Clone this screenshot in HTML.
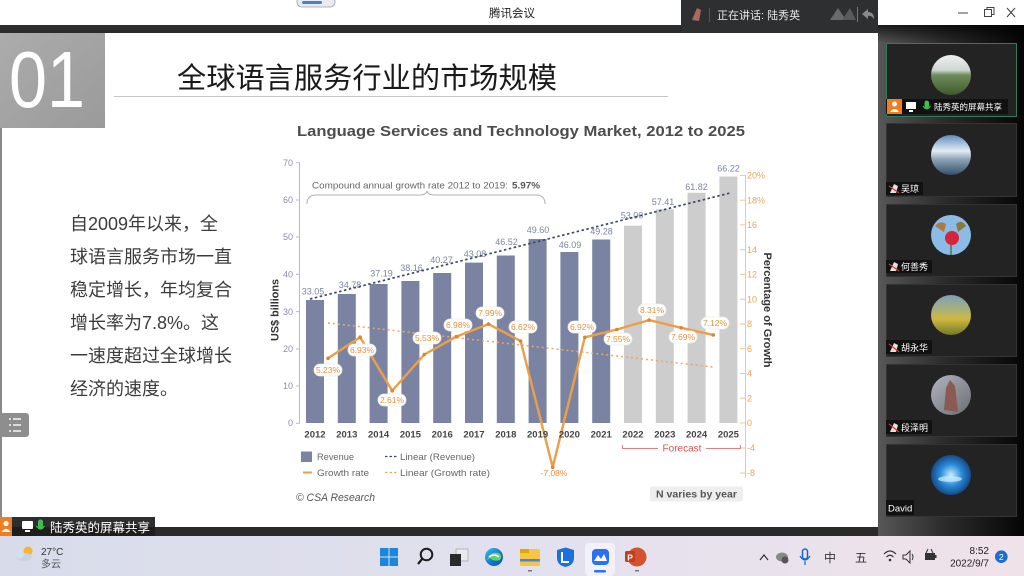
<!DOCTYPE html>
<html><head><meta charset="utf-8">
<style>
html,body{margin:0;padding:0;width:1024px;height:576px;overflow:hidden;background:#fff}
svg{display:block}
text{font-family:'Liberation Sans','Noto Sans CJK SC',sans-serif}
</style></head><body>
<svg width="1024" height="576" viewBox="0 0 1024 576" xmlns="http://www.w3.org/2000/svg">
<defs>
<linearGradient id="sb" x1="0" y1="0" x2="1" y2="0">
<stop offset="0" stop-color="#575757"/><stop offset="0.45" stop-color="#2c2c2c"/><stop offset="1" stop-color="#050505"/>
</linearGradient>
<linearGradient id="sbt" x1="0" y1="0" x2="0" y2="1">
<stop offset="0" stop-color="#000" stop-opacity="0.7"/><stop offset="1" stop-color="#000" stop-opacity="0"/>
</linearGradient>
<linearGradient id="tb" x1="0" y1="0" x2="1" y2="0">
<stop offset="0" stop-color="#d8dcea"/><stop offset="0.55" stop-color="#e3e1ee"/><stop offset="1" stop-color="#f0e2e9"/>
</linearGradient>
<linearGradient id="box01" x1="0" y1="0" x2="1" y2="1"><stop offset="0" stop-color="#acacac"/><stop offset="1" stop-color="#9a9a9a"/></linearGradient>
<linearGradient id="a1" x1="0" y1="0" x2="0" y2="1"><stop offset="0" stop-color="#eef1f2"/><stop offset="0.38" stop-color="#cdd6d0"/><stop offset="0.5" stop-color="#6f8c5a"/><stop offset="1" stop-color="#3d5a2c"/></linearGradient>
<linearGradient id="a2" x1="0" y1="0" x2="0" y2="1"><stop offset="0" stop-color="#5f8cc0"/><stop offset="0.4" stop-color="#e4ecf2"/><stop offset="0.6" stop-color="#8fa5b8"/><stop offset="1" stop-color="#34506a"/></linearGradient>
<linearGradient id="a4" x1="0" y1="0" x2="0" y2="1"><stop offset="0" stop-color="#7d9fb8"/><stop offset="0.35" stop-color="#a8b07a"/><stop offset="0.6" stop-color="#d0b840"/><stop offset="1" stop-color="#6f7a2a"/></linearGradient>
<linearGradient id="a5" x1="0" y1="0" x2="1" y2="1"><stop offset="0" stop-color="#b0b4bc"/><stop offset="1" stop-color="#6c6e76"/></linearGradient>
<radialGradient id="a6" cx="0.5" cy="0.5" r="0.6"><stop offset="0" stop-color="#c8ecff"/><stop offset="0.45" stop-color="#2b8ad8"/><stop offset="1" stop-color="#0a2f66"/></radialGradient>
<linearGradient id="edge" x1="0" y1="0" x2="1" y2="1"><stop offset="0" stop-color="#35c1f1"/><stop offset="0.6" stop-color="#1573c9"/><stop offset="1" stop-color="#0c59a4"/></linearGradient>
</defs>

<!-- window title bar -->
<rect x="0" y="0" width="1024" height="25" fill="#ffffff"/>
<rect x="297" y="-4" width="38" height="11" rx="5" fill="#e9ebf0" stroke="#9aa0aa" stroke-width="0.8"/>
<rect x="302" y="1" width="20" height="3" rx="1.5" fill="#4a7fd6"/>
<text x="512" y="17" font-size="11.5" fill="#222" text-anchor="middle">腾讯会议</text>
<line x1="958" y1="13" x2="968" y2="13" stroke="#444" stroke-width="1"/>
<rect x="984.5" y="9.5" width="7" height="7" fill="none" stroke="#444" stroke-width="1"/>
<path d="M987 9.5 V7.5 H994 V14.5 H991.5" fill="none" stroke="#444" stroke-width="1"/>
<path d="M1007 8 L1015 17 M1015 8 L1007 17" stroke="#444" stroke-width="1.1"/>

<!-- dark strip and speaker panel -->
<rect x="0" y="25" width="878" height="8" fill="#2b2b2c"/>
<rect x="681" y="0" width="197" height="33" fill="#2e2f31"/>
<path d="M692 20 L697 8 L701 10 L699 21 Z" fill="#a86a5c"/>
<line x1="709.5" y1="8" x2="709.5" y2="22" stroke="#555" stroke-width="1"/>
<text x="717" y="19" font-size="11" fill="#e8e8e8">正在讲话: 陆秀英</text>
<path d="M830 20 L838 8 L846 20 Z" fill="#6a6a6a"/>
<path d="M842 20 L850 8 L856 20 Z" fill="#5a5a5a"/>
<line x1="857.5" y1="7" x2="857.5" y2="22" stroke="#777"/>
<path d="M862 14 L868 9 L868 12 Q874 12 874 19 Q871 15 868 16 L868 19 Z" fill="#8a8a8a"/>

<!-- slide -->
<rect x="0" y="33" width="878" height="494" fill="#ffffff"/>
<rect x="0" y="33" width="2" height="494" fill="#8a8a8a"/>
<rect x="0" y="33" width="105" height="95" fill="url(#box01)"/>
<text x="9" y="107" font-size="80" fill="#ffffff" textLength="76" lengthAdjust="spacingAndGlyphs">01</text>
<text x="177" y="88" font-size="29" fill="#1a1a1a" textLength="380" lengthAdjust="spacingAndGlyphs">全球语言服务行业的市场规模</text>
<line x1="114" y1="96.5" x2="668" y2="96.5" stroke="#c4c4c4" stroke-width="1"/>

<!-- left body text -->
<g font-size="18" fill="#3c3c3c">
<text x="70" y="230">自2009年以来，全</text>
<text x="70" y="263">球语言服务市场一直</text>
<text x="70" y="296">稳定增长，年均复合</text>
<text x="70" y="329">增长率为7.8%。这</text>
<text x="70" y="362">一速度超过全球增长</text>
<text x="70" y="395">经济的速度。</text>
</g>
<rect x="0" y="413" width="29" height="24" rx="3" fill="#8e8e8e"/>
<g stroke="#fff" stroke-width="1.4">
<line x1="9" y1="419" x2="11" y2="419"/><line x1="13" y1="419" x2="21" y2="419"/>
<line x1="9" y1="425" x2="11" y2="425"/><line x1="13" y1="425" x2="21" y2="425"/>
<line x1="9" y1="431" x2="11" y2="431"/><line x1="13" y1="431" x2="21" y2="431"/>
</g>

<!-- chart title -->
<text x="297" y="136" font-size="15" font-weight="bold" fill="#4d4d4d" textLength="448" lengthAdjust="spacingAndGlyphs">Language Services and Technology Market, 2012 to 2025</text>

<!-- left axis -->
<g font-size="9" fill="#8a8fa6" text-anchor="end">
<text x="293" y="426">0</text>
<text x="293" y="389">10</text>
<text x="293" y="352">20</text>
<text x="293" y="315">30</text>
<text x="293" y="277.5">40</text>
<text x="293" y="240">50</text>
<text x="293" y="203">60</text>
<text x="293" y="166">70</text>
</g>
<g stroke="#b8bccb" stroke-width="1">
<line x1="299.5" y1="163" x2="299.5" y2="423"/>
<line x1="296" y1="423.3" x2="300" y2="423.3"/>
<line x1="296" y1="386" x2="300" y2="386"/>
<line x1="296" y1="349" x2="300" y2="349"/>
<line x1="296" y1="311.6" x2="300" y2="311.6"/>
<line x1="296" y1="274.4" x2="300" y2="274.4"/>
<line x1="296" y1="237" x2="300" y2="237"/>
<line x1="296" y1="200" x2="300" y2="200"/>
<line x1="296" y1="162.7" x2="300" y2="162.7"/>
</g>
<text transform="translate(278.5,310) rotate(-90)" font-size="11" font-weight="bold" fill="#333" text-anchor="middle" textLength="62" lengthAdjust="spacingAndGlyphs">US$ billions</text>

<!-- right axis -->
<line x1="745.5" y1="175" x2="745.5" y2="478" stroke="#f2c78e" stroke-width="1"/>
<g stroke="#f2c78e" stroke-width="1">
<line x1="740" y1="175.4" x2="745" y2="175.4"/>
<line x1="740" y1="200.2" x2="745" y2="200.2"/>
<line x1="740" y1="224.9" x2="745" y2="224.9"/>
<line x1="740" y1="249.7" x2="745" y2="249.7"/>
<line x1="740" y1="274.4" x2="745" y2="274.4"/>
<line x1="740" y1="299.2" x2="745" y2="299.2"/>
<line x1="740" y1="324" x2="745" y2="324"/>
<line x1="740" y1="348.7" x2="745" y2="348.7"/>
<line x1="740" y1="373.5" x2="745" y2="373.5"/>
<line x1="740" y1="398.2" x2="745" y2="398.2"/>
<line x1="740" y1="423" x2="745" y2="423"/>
<line x1="740" y1="448" x2="745" y2="448"/>
<line x1="740" y1="473" x2="745" y2="473"/>
</g>
<g font-size="9" fill="#eaa458">
<text x="747" y="178.5">20%</text>
<text x="747" y="203.3">18%</text>
<text x="747" y="228">16</text>
<text x="747" y="252.8">14</text>
<text x="747" y="277.5">12</text>
<text x="747" y="302.3">10</text>
<text x="747" y="327">8</text>
<text x="747" y="351.8">6</text>
<text x="747" y="376.6">4</text>
<text x="747" y="401.3">2</text>
<text x="747" y="426">0</text>
<text x="747" y="451">-4</text>
<text x="747" y="476">-8</text>
</g>
<text transform="translate(764,310) rotate(90)" font-size="11" font-weight="bold" fill="#333" text-anchor="middle" textLength="115" lengthAdjust="spacingAndGlyphs">Percentage of Growth</text>

<!-- CAGR brace -->
<text x="312" y="188.5" font-size="9.5" fill="#666" textLength="196" lengthAdjust="spacingAndGlyphs">Compound annual growth rate 2012 to 2019:</text>
<text x="512" y="188.5" font-size="9.5" font-weight="bold" fill="#555" textLength="28" lengthAdjust="spacingAndGlyphs">5.97%</text>
<path d="M307 204 Q307 195 316 195 L420 195 Q426 195 427 191 Q428 195 434 195 L536 195 Q545 195 545 204" fill="none" stroke="#b0b0b0" stroke-width="1"/>

<!-- bars -->
<g fill="#7a84a2">
<rect x="306" y="300" width="18" height="123"/>
<rect x="337.8" y="294" width="18" height="129"/>
<rect x="369.6" y="284" width="18" height="139"/>
<rect x="401.4" y="281" width="18" height="142"/>
<rect x="433.2" y="273" width="18" height="150"/>
<rect x="465" y="262.6" width="18" height="160.4"/>
<rect x="496.8" y="255.5" width="18" height="167.5"/>
<rect x="528.6" y="239" width="18" height="184"/>
<rect x="560.4" y="252" width="18" height="171"/>
<rect x="592.2" y="239.5" width="18" height="183.5"/>
</g>
<g fill="#cdcdcd">
<rect x="624" y="225.7" width="18" height="197.3"/>
<rect x="655.8" y="209.3" width="18" height="213.7"/>
<rect x="687.6" y="192.8" width="18" height="230.2"/>
<rect x="719.4" y="176.5" width="18" height="246.5"/>
</g>

<!-- bar value labels -->
<g font-size="9" fill="#7b84a0" text-anchor="middle">
<text x="313" y="294.5">33.05</text>
<text x="350" y="288">34.78</text>
<text x="381.5" y="276.5">37.19</text>
<text x="411.5" y="271">38.16</text>
<text x="441.5" y="263">40.27</text>
<text x="475" y="257">43.08</text>
<text x="506.5" y="245">46.52</text>
<text x="538" y="233">49.60</text>
<text x="570" y="248">46.09</text>
<text x="601.5" y="234.5">49.28</text>
<text x="632" y="218.5">53.00</text>
<text x="663" y="205">57.41</text>
<text x="696.5" y="190">61.82</text>
<text x="728.5" y="171.5">66.22</text>
</g>

<!-- trend lines -->
<line x1="310" y1="299" x2="730" y2="193" stroke="#3f4863" stroke-width="1.7" stroke-dasharray="2.5 2.5"/>
<line x1="328" y1="323" x2="713" y2="367" stroke="#e9a866" stroke-width="1.5" stroke-dasharray="2 3"/>

<!-- growth line -->
<polyline points="328,358.3 360.1,337.2 392.2,390.7 424.3,354.5 456.4,336.6 488.5,324.1 520.6,341 552.7,467.3 584.8,337.3 616.9,329.5 649,320.1 681.1,327.8 713.2,334.9" fill="none" stroke="#ef9e48" stroke-width="2.4" stroke-linejoin="round"/>
<g fill="#d98630">
<circle cx="328" cy="358.3" r="1.8"/><circle cx="360.1" cy="337.2" r="1.8"/><circle cx="392.2" cy="390.7" r="1.8"/>
<circle cx="424.3" cy="354.5" r="1.8"/><circle cx="456.4" cy="336.6" r="1.8"/><circle cx="488.5" cy="324.1" r="1.8"/>
<circle cx="520.6" cy="341" r="1.8"/><circle cx="552.7" cy="467.3" r="1.8"/><circle cx="584.8" cy="337.3" r="1.8"/>
<circle cx="616.9" cy="329.5" r="1.8"/><circle cx="649" cy="320.1" r="1.8"/><circle cx="681.1" cy="327.8" r="1.8"/>
<circle cx="713.2" cy="334.9" r="1.8"/>
</g>

<!-- growth labels -->
<g fill="#ffffff" stroke="#ececec" stroke-width="0.8">
<rect x="314" y="364" width="28" height="12" rx="6"/>
<rect x="348" y="344" width="28" height="12" rx="6"/>
<rect x="378" y="394" width="28" height="12" rx="6"/>
<rect x="413" y="332" width="28" height="12" rx="6"/>
<rect x="444" y="319" width="28" height="12" rx="6"/>
<rect x="476" y="307" width="28" height="12" rx="6"/>
<rect x="509" y="321" width="28" height="12" rx="6"/>
<rect x="568" y="321" width="28" height="12" rx="6"/>
<rect x="604" y="333" width="28" height="12" rx="6"/>
<rect x="638" y="304" width="28" height="12" rx="6"/>
<rect x="669" y="331" width="28" height="12" rx="6"/>
<rect x="701" y="317" width="28" height="12" rx="6"/>
</g>
<g font-size="8.5" fill="#e8923a" text-anchor="middle">
<text x="328" y="373">5.23%</text>
<text x="362" y="353">6.93%</text>
<text x="392" y="403">2.61%</text>
<text x="427" y="341">5.53%</text>
<text x="458" y="328">6.98%</text>
<text x="490" y="316">7.99%</text>
<text x="523" y="330">6.62%</text>
<text x="554" y="476">-7.08%</text>
<text x="582" y="330">6.92%</text>
<text x="618" y="342">7.55%</text>
<text x="652" y="313">8.31%</text>
<text x="683" y="340">7.69%</text>
<text x="715" y="326">7.12%</text>
</g>

<!-- x axis labels -->
<g font-size="9.5" font-weight="bold" fill="#454545" text-anchor="middle">
<text x="315" y="437.5">2012</text>
<text x="346.8" y="437.5">2013</text>
<text x="378.6" y="437.5">2014</text>
<text x="410.4" y="437.5">2015</text>
<text x="442.2" y="437.5">2016</text>
<text x="474" y="437.5">2017</text>
<text x="505.8" y="437.5">2018</text>
<text x="537.6" y="437.5">2019</text>
<text x="569.4" y="437.5">2020</text>
<text x="601.2" y="437.5">2021</text>
<text x="633" y="437.5">2022</text>
<text x="664.8" y="437.5">2023</text>
<text x="696.6" y="437.5">2024</text>
<text x="728.4" y="437.5">2025</text>
</g>

<!-- forecast bracket -->
<path d="M622.5 445 V448.5 H740.5 V445" fill="none" stroke="#e08080" stroke-width="1"/>
<rect x="658" y="442" width="48" height="12" fill="#fff"/>
<text x="682" y="451.5" font-size="10" fill="#d9534f" text-anchor="middle">Forecast</text>

<!-- legend -->
<rect x="301" y="451.5" width="11" height="10.5" fill="#7a84a2"/>
<text x="317" y="460" font-size="9.5" fill="#666" textLength="37" lengthAdjust="spacingAndGlyphs">Revenue</text>
<line x1="303" y1="472.5" x2="312" y2="472.5" stroke="#ef9e48" stroke-width="2"/>
<text x="317" y="476" font-size="9.5" fill="#666" textLength="52" lengthAdjust="spacingAndGlyphs">Growth rate</text>
<line x1="385" y1="456.5" x2="398" y2="456.5" stroke="#3f4863" stroke-width="1.3" stroke-dasharray="2.5 2"/>
<text x="400" y="460" font-size="9.5" fill="#666" textLength="75" lengthAdjust="spacingAndGlyphs">Linear (Revenue)</text>
<line x1="385" y1="472.5" x2="398" y2="472.5" stroke="#e9a866" stroke-width="1.3" stroke-dasharray="2.5 2"/>
<text x="400" y="476" font-size="9.5" fill="#666" textLength="90" lengthAdjust="spacingAndGlyphs">Linear (Growth rate)</text>

<text x="296" y="501" font-size="11" font-style="italic" fill="#555" textLength="79" lengthAdjust="spacingAndGlyphs">© CSA Research</text>
<rect x="650" y="486.5" width="93" height="15" rx="2" fill="#eeeeee"/>
<text x="656" y="497.5" font-size="10" font-weight="bold" fill="#555" textLength="81" lengthAdjust="spacingAndGlyphs">N varies by year</text>

<!-- bottom dark bar -->
<rect x="0" y="527" width="878" height="10" fill="#2a2a2b"/>
<rect x="0" y="517" width="155" height="20" fill="#1c1c1c" fill-opacity="0.92"/>
<rect x="0" y="517" width="12" height="20" fill="#f07d1e"/>
<circle cx="6" cy="523.5" r="2.6" fill="#fff"/>
<path d="M1.5 532 Q6 525.5 10.5 532 Z" fill="#fff"/>
<rect x="22" y="521" width="11" height="8" rx="1" fill="#fff"/>
<rect x="25" y="530" width="5" height="2" fill="#fff"/>
<rect x="38" y="519.5" width="5" height="9" rx="2.5" fill="#3fbf50"/>
<path d="M36.5 526 Q40.5 532 44.5 526" fill="none" stroke="#3fbf50" stroke-width="1.2"/>
<text x="50" y="532" font-size="12.5" fill="#ffffff">陆秀英的屏幕共享</text>

<!-- right sidebar -->
<rect x="878" y="25" width="146" height="512" fill="url(#sb)"/>
<rect x="878" y="25" width="146" height="18" fill="url(#sbt)"/>
<g fill="#232323" stroke="#343434" stroke-width="1">
<rect x="886.5" y="123.5" width="130" height="73"/>
<rect x="886.5" y="204.5" width="130" height="72"/>
<rect x="886.5" y="284.5" width="130" height="72"/>
<rect x="886.5" y="364.5" width="130" height="72"/>
<rect x="886.5" y="444.5" width="130" height="72"/>
</g>
<rect x="886.5" y="43.5" width="130" height="73" fill="#232323" stroke="#2f7c5a" stroke-width="1"/>

<circle cx="951" cy="75" r="20" fill="url(#a1)"/>
<circle cx="951" cy="155" r="20" fill="url(#a2)"/>
<circle cx="951" cy="235" r="20" fill="#8cbbe8"/>
<path d="M935 226 Q940 220 946 224 L944 232 Z" fill="#b07a3a"/>
<path d="M956 224 Q962 219 966 226 L958 232 Z" fill="#8a7a3a"/>
<circle cx="952" cy="238" r="7" fill="#d8243a"/>
<line x1="951" y1="245" x2="951" y2="255" stroke="#4a7a3a" stroke-width="1.5"/>
<circle cx="951" cy="315" r="20" fill="url(#a4)"/>
<circle cx="951" cy="395" r="20" fill="url(#a5)"/>
<path d="M944 410 L946 388 L950 380 L955 386 L958 412 Z" fill="#8b5a50"/>
<circle cx="951" cy="475" r="20" fill="url(#a6)"/>
<ellipse cx="950" cy="479" rx="12" ry="3" fill="#cfefff" fill-opacity="0.7"/>

<!-- tile labels -->
<rect x="886" y="99" width="122" height="15" fill="#111"/>
<rect x="887" y="99" width="15" height="15" fill="#f07d1e"/>
<circle cx="894.5" cy="104" r="2.5" fill="#fff"/>
<path d="M890 112 Q894.5 106 899 112 Z" fill="#fff"/>
<rect x="906" y="102" width="10" height="7" fill="#fff"/>
<rect x="909" y="110" width="4" height="2" fill="#fff"/>
<rect x="924.5" y="100.5" width="4.5" height="8" rx="2.2" fill="#3fbf50"/>
<path d="M923 106 Q926.7 112 930.5 106" fill="none" stroke="#3fbf50" stroke-width="1.1"/>
<text x="934" y="110" font-size="8.5" fill="#fff">陆秀英的屏幕共享</text>

<g fill="#111">
<rect x="886" y="182" width="37" height="13"/>
<rect x="886" y="260" width="46" height="13"/>
<rect x="886" y="340" width="46" height="14"/>
<rect x="886" y="420" width="46" height="14"/>
<rect x="886" y="500" width="28" height="15"/>
</g>
<g fill="#e8e0e0">
<path d="M890 193 L894 184 L898 186 L896 193 Z"/>
<path d="M890 271 L894 262 L898 264 L896 271 Z"/>
<path d="M890 352 L894 343 L898 345 L896 352 Z"/>
<path d="M890 432 L894 423 L898 425 L896 432 Z"/>
</g>
<g stroke="#d0383a" stroke-width="1.2">
<line x1="889" y1="186" x2="899" y2="193"/>
<line x1="889" y1="264" x2="899" y2="271"/>
<line x1="889" y1="344" x2="899" y2="352"/>
<line x1="889" y1="424" x2="899" y2="432"/>
</g>
<g font-size="9" fill="#fff">
<text x="901" y="192">吴琼</text>
<text x="901" y="270">何善秀</text>
<text x="901" y="351">胡永华</text>
<text x="901" y="431">段泽明</text>
<text x="888" y="511.5" font-size="9.5">David</text>
</g>

<!-- taskbar -->
<rect x="0" y="536" width="1024" height="40" fill="url(#tb)"/>
<circle cx="28" cy="551" r="4.5" fill="#f5b731"/>
<ellipse cx="24" cy="557" rx="8" ry="4" fill="#c8d4e6"/>
<ellipse cx="20" cy="555" rx="4" ry="3.5" fill="#d6dfec"/>
<text x="41" y="555" font-size="10" fill="#333">27°C</text>
<text x="41" y="567.5" font-size="10" fill="#555">多云</text>

<g fill="#1a86dc">
<rect x="380" y="548" width="8.5" height="8.5"/>
<rect x="389.5" y="548" width="8.5" height="8.5"/>
<rect x="380" y="557.5" width="8.5" height="8.5"/>
<rect x="389.5" y="557.5" width="8.5" height="8.5"/>
</g>
<circle cx="426.5" cy="554.5" r="5.8" fill="none" stroke="#1e1e1e" stroke-width="2"/>
<line x1="422.5" y1="558.5" x2="418" y2="564" stroke="#1e1e1e" stroke-width="2.2"/>
<rect x="456" y="549" width="12" height="12" fill="#e8e8ee" stroke="#aaa" stroke-width="0.8"/>
<rect x="450" y="554" width="11" height="12" fill="#2a2a2a"/>
<circle cx="494" cy="557" r="9" fill="url(#edge)"/>
<path d="M487 560 Q490 551 499 553 Q503 556 500 560 Q494 562 490 558" fill="#5fd36a"/>
<path d="M489 557 Q494 553 499 557" fill="none" stroke="#fff" stroke-width="1.5"/>
<rect x="520" y="549" width="20" height="17" rx="1.5" fill="#f6c544"/>
<rect x="520" y="549" width="9" height="4" fill="#e2a400"/>
<rect x="520" y="559" width="20" height="2.5" fill="#3b8be0"/>
<rect x="528" y="570" width="4" height="1.5" fill="#777"/>
<path d="M557 550 L565.5 547.5 L574 550 V558 Q574 565 565.5 567 Q557 565 557 558 Z" fill="#1d6fe0"/>
<path d="M562 552 V562 H569" fill="none" stroke="#fff" stroke-width="2"/>
<rect x="585" y="543" width="30" height="33" rx="4" fill="#ffffff" fill-opacity="0.55"/>
<rect x="592" y="549" width="17" height="16" rx="4" fill="#2a72f0"/>
<path d="M594 561 L598 555 L601 559 L604 554 L607 561 Z" fill="#fff"/>
<rect x="594" y="570" width="12" height="2.5" rx="1" fill="#2a72f0"/>
<circle cx="637" cy="557" r="9.5" fill="#d35230"/>
<rect x="625" y="551" width="10" height="11" rx="1.5" fill="#c43e1c"/>
<text x="627.3" y="560.5" font-size="8.5" font-weight="bold" fill="#fff">P</text>
<rect x="635" y="570" width="4" height="1.5" fill="#777"/>

<path d="M760 560 L764 555 L768 560" fill="none" stroke="#333" stroke-width="1.2"/>
<ellipse cx="782" cy="557" rx="6" ry="4.5" fill="#888"/>
<circle cx="785" cy="560" r="3.5" fill="#555"/>
<rect x="802.5" y="549" width="5" height="10" rx="2.5" fill="none" stroke="#1a66d0" stroke-width="1.5"/>
<path d="M800 556 Q805 564 810 556 M805 561 V565" fill="none" stroke="#1a66d0" stroke-width="1.2"/>
<text x="830" y="562" font-size="12" fill="#333" text-anchor="middle">中</text>
<text x="861" y="562" font-size="12" fill="#333" text-anchor="middle">五</text>
<path d="M884 554 Q890 548 896 554 M886.5 557 Q890 553.5 893.5 557" fill="none" stroke="#333" stroke-width="1.2"/>
<circle cx="890" cy="560" r="1.3" fill="#333"/>
<path d="M903 555 H906 L910 551 V563 L906 559 H903 Z" fill="none" stroke="#333" stroke-width="1"/>
<path d="M912 554 Q914 557 912 560" fill="none" stroke="#333" stroke-width="1"/>
<rect x="925" y="553" width="10" height="7" fill="#333"/>
<rect x="935" y="555" width="1.5" height="3" fill="#333"/>
<path d="M928 549 L926 553 M931 549 L933 553" stroke="#333" stroke-width="1"/>
<text x="989" y="554" font-size="10" fill="#222" text-anchor="end">8:52</text>
<text x="989" y="566.5" font-size="10" fill="#222" text-anchor="end">2022/9/7</text>
<circle cx="1001.3" cy="556.7" r="6.3" fill="#1a6fd0"/>
<text x="1001.3" y="560" font-size="8.5" fill="#fff" text-anchor="middle">2</text>
</svg>
</body></html>
